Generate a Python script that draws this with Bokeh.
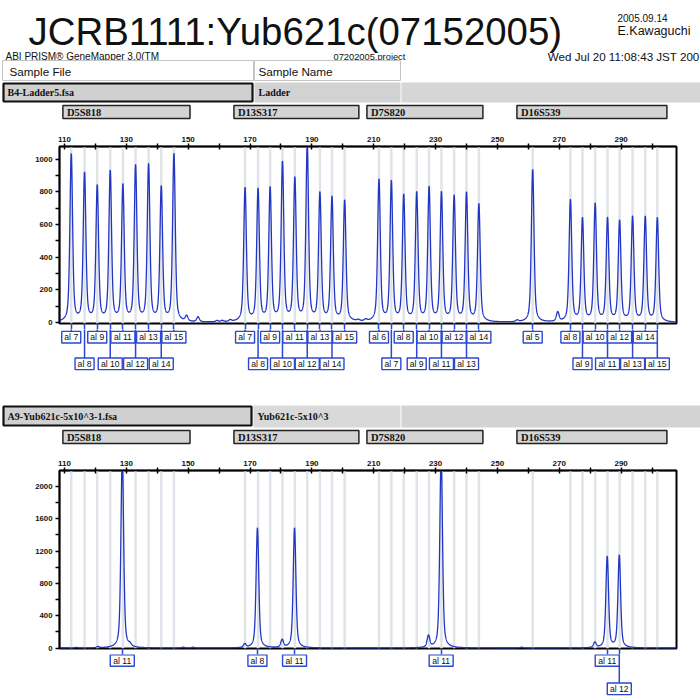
import numpy as np
from bokeh.plotting import figure
from bokeh.models import Range1d, FixedTicker, LinearAxis
from bokeh.layouts import column
from bokeh.core.properties import value
from bokeh.embed import file_html
from bokeh.resources import INLINE

# ---------------- data ----------------
title_text = "JCRB1111:Yub621c(07152005)"
date_text = "2005.09.14"
author_text = "E.Kawaguchi"
app_text = "ABI PRISM\u00ae GeneMapper 3.0(TM"
project_text = "07202005.project"
time_text = "Wed Jul 20 11:08:43 JST 200"

marker_names = ["D5S818", "D13S317", "D7S820", "D16S539"]
marker_lo = [109.5, 164.8, 207.8, 256.3]
marker_hi = [150.6, 205.2, 245.3, 304.8]

ladder_file = "B4-Ladder5.fsa"
ladder_name = "Ladder"
ladder_bp = [112.2, 116.5, 120.6, 124.8, 128.9, 133.0, 137.2, 141.3, 145.4,
             168.4, 172.6, 176.5, 180.5, 184.5, 188.5, 192.6, 196.5, 200.6,
             211.7, 215.7, 219.7, 223.9, 227.9, 231.9, 236.0, 240.0, 244.0,
             261.4, 273.6, 277.5, 281.6, 285.6, 289.5, 293.7, 297.8, 301.7]
ladder_rfu = [1025, 905, 825, 915, 830, 948, 955, 818, 1025,
              818, 806, 812, 967, 870, 1071, 780, 757, 739,
              867, 853, 769, 784, 816, 784, 763, 784, 718,
              935, 745, 629, 718, 629, 614, 639, 639, 635]
ladder_allele = [7, 8, 9, 10, 11, 12, 13, 14, 15,
                 7, 8, 9, 10, 11, 12, 13, 14, 15,
                 6, 7, 8, 9, 10, 11, 12, 13, 14,
                 5, 8, 9, 10, 11, 12, 13, 14, 15]
ladder_minor_bp = [149.5, 153.2, 159.3, 161.0, 163.6, 205.0, 207.4, 256.4, 269.5]
ladder_minor_rfu = [33, 30, 8, 8, 10, 8, 10, 10, 57]

sample_file = "A9-Yub621c-5x10^3-1.fsa"
sample_name = "Yub621c-5x10^3"
sample_bp = [128.7, 172.4, 184.4, 231.8, 285.5, 289.4]
sample_rfu = [2400, 1485, 1485, 2400, 1126, 1142]
sample_allele = [11, 8, 11, 11, 11, 12]
sample_minor_bp = [113.8, 120.8, 131.2, 148.4, 151.6, 168.3, 180.4, 227.7, 257.8, 281.5]
sample_minor_rfu = [8, 15, 25, 10, 10, 45, 95, 144, 10, 66]

x_ticks = [110, 130, 150, 170, 190, 210, 230, 250, 270, 290]
x_minor = [120, 140, 160, 180, 200, 220, 240, 260, 280, 300]
top_y_ticks = [0, 200, 400, 600, 800, 1000]
top_y_minor = [100, 300, 500, 700, 900]
bot_y_ticks = [0, 400, 800, 1200, 1600, 2000]
bot_y_minor = [200, 600, 1000, 1400, 1800]

# ---------------- style / layout ----------------
W = 700
S = W / 700.0
LB = round(59 * S)
RB = round(24 * S)
GAP = 6  # space under each panel frame
BLUE = "#2236c4"
BOXBLUE = "#2a48d0"
BIN = "#e0e3e7"
XR = Range1d(108.4, 307.9)


def px(v):
    return f"{v * S:.2f}px"


def base_fig(h_out, x_range, y_range, left=0, right=0):
    p = figure(width=W, height=h_out, x_range=x_range, y_range=y_range,
               x_axis_type=None, y_axis_type=None, title=None,
               output_backend="svg", toolbar_location=None,
               min_border=0, min_border_left=left, min_border_right=right,
               min_border_top=0, min_border_bottom=0)
    p.frame_align = False
    p.outline_line_color = None
    p.xgrid.visible = False
    p.ygrid.visible = False
    p.background_fill_color = "white"
    p.border_fill_color = "white"
    return p


def header1(h_out):
    h_ref = h_out / S
    p = base_fig(h_out, Range1d(0, 700), Range1d(h_ref, 0))
    p.text(x=[28], y=[30.5], text=[title_text], text_font=value("Liberation Sans"),
           text_font_size=px(38.4), text_color="#111111", text_baseline="alphabetic")
    p.text(x=[617], y=[17], text=[date_text], text_font=value("Liberation Sans"),
           text_font_size=px(10), text_color="#111111", text_baseline="alphabetic")
    p.text(x=[617], y=[30], text=[author_text], text_font=value("Liberation Sans"),
           text_font_size=px(12.5), text_color="#111111", text_baseline="alphabetic")
    p.text(x=[5], y=[56], text=[app_text], text_font=value("Liberation Sans"),
           text_font_size=px(10), text_color="#111111", text_baseline="alphabetic")
    p.text(x=[333], y=[56], text=[project_text], text_font=value("Liberation Sans"),
           text_font_size=px(9.3), text_color="#111111", text_baseline="alphabetic")
    p.text(x=[699], y=[56], text=[time_text], text_font=value("Liberation Sans"),
           text_font_size=px(11.6), text_color="#111111", text_baseline="alphabetic",
           text_align="right")
    # Sample File / Sample Name boxes
    p.quad(left=[2, 254], right=[253, 400], top=[60, 60], bottom=[80, 80],
           fill_color="white", line_color="#c4c4c4", line_width=1)
    p.text(x=[9, 258], y=[70.5, 70.5], text=["Sample File", "Sample Name"],
           text_font=value("Liberation Sans"), text_font_size=px(11.7),
           text_color="#111111", text_baseline="middle")
    # grey row
    p.quad(left=[401], right=[700], top=[82], bottom=[102], fill_color="#d6d6d6", line_color=None)
    p.quad(left=[254], right=[400], top=[82], bottom=[102], fill_color="#d2d2d2", line_color=None)
    p.quad(left=[3], right=[252], top=[83], bottom=[101], fill_color="#d0d0d0",
           line_color="#111111", line_width=2.2)
    p.text(x=[7, 258], y=[92, 92], text=[ladder_file, ladder_name],
           text_font=value("Liberation Serif"), text_font_style="bold",
           text_font_size=px(10), text_color="#111111", text_baseline="middle")
    return p


def header2(h_out):
    h_ref = h_out / S
    p = base_fig(h_out, Range1d(0, 700), Range1d(h_ref, 0))
    p.quad(left=[401], right=[700], top=[27], bottom=[49], fill_color="#d3d3d3", line_color=None)
    p.quad(left=[253], right=[400], top=[27], bottom=[49], fill_color="#d9d9d9", line_color=None)
    p.quad(left=[3], right=[251], top=[28], bottom=[47], fill_color="#d0d0d0",
           line_color="#111111", line_width=2.2)
    p.text(x=[7, 257], y=[37.5, 37.5], text=[sample_file, sample_name],
           text_font=value("Liberation Serif"), text_font_style="bold",
           text_font_size=px(10), text_color="#111111", text_baseline="middle")
    return p


def marker_fig(h_out):
    h_ref = h_out / S
    p = base_fig(h_out, XR, Range1d(h_ref, 0), LB, RB)
    p.quad(left=marker_lo, right=marker_hi, top=[2] * 4, bottom=[15] * 4,
           fill_color="#d4d4d4", line_color="#222222", line_width=1.5)
    p.text(x=marker_lo, y=[9] * 4, text=marker_names, x_offset=4 * S,
           text_font=value("Liberation Serif"), text_font_style="bold",
           text_font_size=px(10.5), text_color="#111111", text_baseline="middle")
    return p


def trace(peaks_bp, peaks_h):
    x = np.arange(XR.start, XR.end, 0.03)
    y = np.zeros_like(x)
    for c, h in zip(peaks_bp, peaks_h):
        d = x - c
        y += h * (0.55 * np.exp(-0.5 * (d / 0.42) ** 2) + 0.45 / (1 + (d / 0.55) ** 2))
    return x, y


def panel(h_out, top_border, yr, yt, ym, peaks_bp, peaks_h, label_bp):
    p = figure(width=W, height=h_out, x_range=XR, y_range=Range1d(*yr),
               x_axis_location="above", title=None, output_backend="svg",
               toolbar_location=None, min_border=0, min_border_left=LB,
               min_border_right=RB, min_border_top=top_border, min_border_bottom=GAP)
    p.frame_align = False
    p.xgrid.visible = False
    p.ygrid.visible = False
    p.outline_line_color = "black"
    p.outline_line_width = 2
    p.background_fill_color = "white"
    p.border_fill_color = "white"
    p.vbar(x=ladder_bp, width=0.8, bottom=yr[0], top=yr[1], fill_color=BIN, line_color=None)
    x, y = trace(peaks_bp, peaks_h)
    p.line(x, y, line_color=BLUE, line_width=1.3)
    for ax in (p.xaxis[0], p.yaxis[0]):
        ax.axis_line_width = 1.5
        ax.major_tick_line_width = 1.5
        ax.minor_tick_line_width = 1.5
        ax.minor_tick_line_color = "black"
        ax.major_label_text_font = "Liberation Sans"
        ax.major_label_text_font_style = "bold"
        ax.major_label_text_color = "#111111"
    p.xaxis.ticker = FixedTicker(ticks=x_ticks, minor_ticks=x_minor)
    p.xaxis.major_tick_in = 3
    p.xaxis.major_tick_out = 3
    p.xaxis.minor_tick_in = 3
    p.xaxis.minor_tick_out = 3
    p.xaxis.major_label_standoff = 2
    p.xaxis.major_label_text_font_size = px(8)
    p.yaxis.ticker = FixedTicker(ticks=yt, minor_ticks=ym)
    p.yaxis.major_tick_in = 0
    p.yaxis.major_tick_out = 4
    p.yaxis.minor_tick_in = 0
    p.yaxis.minor_tick_out = 4
    p.yaxis.major_label_standoff = 3
    p.yaxis.major_label_text_font_size = px(7.8)
    # connector stubs of the allele labels, drawn as ticks of an axis below
    stub = LinearAxis(ticker=FixedTicker(ticks=label_bp, minor_ticks=[]),
                      axis_line_color=None, major_tick_in=0, major_tick_out=GAP,
                      major_tick_line_color=BOXBLUE, major_tick_line_width=1.5,
                      minor_tick_out=0, minor_tick_in=0, major_label_standoff=0,
                      major_label_text_font_size="1px", major_label_text_alpha=0,
                      major_label_overrides={t: "" for t in label_bp})
    p.add_layout(stub, "below")
    return p


def labels_fig(h_out, bp, alleles, row_y):
    h_ref = h_out / S
    p = base_fig(h_out, XR, Range1d(GAP / S + h_ref, GAP / S), LB, RB)
    order = np.argsort(bp)
    last = [-1e9, -1e9]
    xs, ys, txt, ws, tops = [], [], [], [], []
    for i in order:
        x = bp[i]
        r = 0 if x - last[0] >= 7 else 1
        last[r] = x
        t = f"al {alleles[i]}"
        xs.append(x)
        ys.append(row_y[r])
        tops.append(row_y[r] - 5.8)
        txt.append(t)
        ws.append((5 * len(t) - 1) * S)
    p.segment(x0=xs, y0=[GAP / S - 1] * len(xs), x1=xs, y1=tops, line_color=BOXBLUE, line_width=1.5)
    p.rect(x=xs, y=ys, width=ws, height=11.6, width_units="screen",
           fill_color="white", line_color=BOXBLUE, line_width=1.4)
    p.text(x=xs, y=ys, text=txt, text_align="center", text_baseline="middle",
           text_font=value("Liberation Sans"), text_font_size=px(8.6), text_color="#111111")
    return p


top_peaks_bp = ladder_bp + ladder_minor_bp
top_peaks_h = ladder_rfu + ladder_minor_rfu
bot_peaks_bp = sample_bp + sample_minor_bp
bot_peaks_h = sample_rfu + sample_minor_rfu

h1 = header1(103)
m1 = marker_fig(22)
p1 = panel(204, 21, (-5, 1078), top_y_ticks, top_y_minor, top_peaks_bp, top_peaks_h, ladder_bp)
l1 = labels_fig(49, ladder_bp, ladder_allele, [13.7, 40.3])
h2 = header2(50)
m2 = marker_fig(22)
p2 = panel(204, 20, (-5, 2197), bot_y_ticks, bot_y_minor, bot_peaks_bp, bot_peaks_h, sample_bp)
l2 = labels_fig(46, sample_bp, sample_allele, [12, 40.3])

layout = column(h1, m1, p1, l1, h2, m2, p2, l2, spacing=0)
open("out.html", "w").write(file_html(layout, INLINE))
